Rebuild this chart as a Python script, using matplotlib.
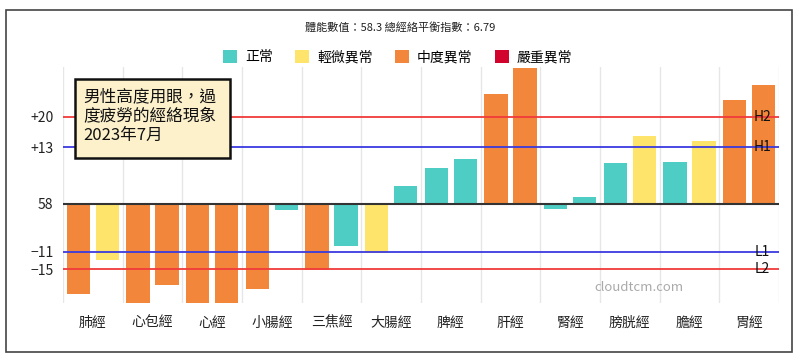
import matplotlib
matplotlib.use('Agg')
import matplotlib.pyplot as plt
from matplotlib.patches import Patch, Rectangle
import numpy as np

plt.rcParams['font.family'] = ['Noto Sans CJK TC', 'DejaVu Sans']

meridians = ['肺經', '心包經', '心經', '小腸經', '三焦經', '大腸經',
             '脾經', '肝經', '腎經', '膀胱經', '膽經', '胃經']
# deviation from baseline (58), left / right side
left_vals = [-20.7, -23, -23, -19.5, -15.2, -11.3, 8.3, 25.3, -1.2, 9.3, 9.6, 24.0]
right_vals = [-12.9, -18.6, -23, -1.4, -9.8, 4.1, 10.3, 31.2, 1.5, 15.6, 14.5, 27.3]
left_level = ['o', 'o', 'o', 'o', 'o', 'm', 'n', 'o', 'n', 'n', 'n', 'o']
right_level = ['m', 'o', 'o', 'n', 'n', 'n', 'n', 'o', 'n', 'm', 'm', 'o']

level_names = ['正常', '輕微異常', '中度異常', '嚴重異常']
level_colors = {'n': '#4ECDC4', 'm': '#FFE46B', 'o': '#F2873B', 's': '#D2042D'}

ref_ticks = [20, 13, 0, -11, -15]
ref_labels = ['+20', '+13', '58', '−11', '−15']
ref_lines = [(20, 'H2', '#F03A3A'), (13, 'H1', '#3A3AE0'),
             (-11, 'L1', '#3A3AE0'), (-15, 'L2', '#F03A3A')]


def main():
    fig = plt.figure(figsize=(8, 3.62), dpi=100)
    ax = fig.add_axes([63 / 800, 1 - 303 / 362, 716 / 800, 236 / 362])

    x = np.arange(len(meridians))
    w = 0.39
    ax.bar(x - 0.245, left_vals, w, color=[level_colors[c] for c in left_level], zorder=2)
    ax.bar(x + 0.245, right_vals, w, color=[level_colors[c] for c in right_level], zorder=2)

    ax.set_xlim(-0.5, len(meridians) - 0.5)
    ax.set_ylim(-22.8, 31.5)

    for b in np.arange(len(meridians) + 1) - 0.5:
        ax.axvline(b, color='#e6e6e6', lw=1, zorder=0)

    ax.axhline(0, color='#333333', lw=1.5, zorder=3)
    for val, name, col in ref_lines:
        ax.axhline(val, color=col, lw=1.3, zorder=3)
        ax.text(len(meridians) - 0.5 - 0.28, val, name, ha='center', va='center',
                fontsize=10, color='#111111', zorder=4)

    ax.set_xticks(x)
    ax.set_xticklabels(meridians, fontsize=10, color='#222222')
    ax.set_yticks(ref_ticks)
    ax.set_yticklabels(ref_labels, fontsize=10, color='#222222')
    ax.tick_params(length=0)
    ax.tick_params(axis='x', pad=9)
    ax.tick_params(axis='y', pad=7)
    for s in ax.spines.values():
        s.set_visible(False)

    ax.text(0.805, 0.065, 'cloudtcm.com', transform=ax.transAxes, ha='center', va='center',
            fontsize=9.5, color='#aaaaaa')

    fig.text(0.5, 1 - 28 / 362, '體能數值：58.3 總經絡平衡指數：6.79', ha='center', va='center',
             fontsize=8, color='#222222')

    handles = [Patch(facecolor=level_colors[k], edgecolor='none') for k in ['n', 'm', 'o', 's']]
    fig.legend(handles, level_names, loc='center', bbox_to_anchor=(0.497, 1 - 57 / 362),
               ncol=4, frameon=False, fontsize=10, handlelength=1.0, handleheight=1.1,
               handletextpad=0.6, columnspacing=1.6)

    # note box
    fig.patches.append(Rectangle((75 / 800, 1 - 158 / 362), 155 / 800, 79 / 362,
                                 transform=fig.transFigure, facecolor='#FDF1CC',
                                 edgecolor='#111111', lw=1.8, zorder=5))
    fig.text(83 / 800, 1 - 100 / 362, '男性高度用眼，過\n度疲勞的經絡現象\n2023年7月',
             ha='left', va='center', fontsize=12, linespacing=1.2, color='#111111',
             zorder=6)
    fig.texts[-1].set_va('top')
    fig.texts[-1].set_y(1 - 88 / 362)

    # outer frame
    fig.patches.append(Rectangle((6 / 800, 1 - 352 / 362), 786 / 800, 342 / 362,
                                 transform=fig.transFigure, facecolor='none',
                                 edgecolor='#444444', lw=1.2))

    fig.savefig('out.png', dpi=100)


if __name__ == '__main__':
    main()
